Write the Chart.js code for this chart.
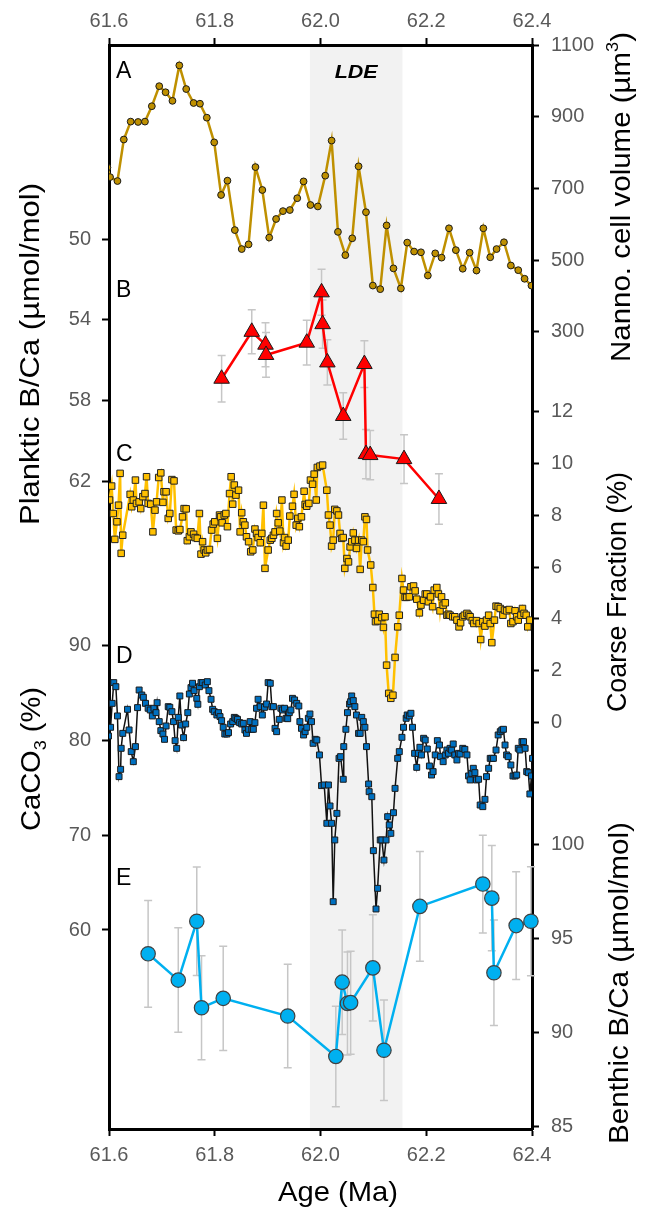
<!DOCTYPE html>
<html><head><meta charset="utf-8">
<style>html,body{margin:0;padding:0;background:#fff;}canvas{display:block;}</style>
<script src="https://cdn.jsdelivr.net/npm/chart.js@4.4.1/dist/chart.umd.min.js"></script>
</head><body>
<canvas id="c" width="645" height="1207"></canvas>
<script>
// ---------------- DATA ----------------
const xTicks = [61.6, 61.8, 62.0, 62.2, 62.4];
const nannoTicks = [300, 500, 700, 900, 1100];
const plankTicks = [50, 54, 58, 62];
const coarseTicks = [0, 2, 4, 6, 8, 10, 12];
const caco3Ticks = [60, 70, 80, 90];
const benthTicks = [85, 90, 95, 100];
const ldeRange = [61.98, 62.155];

// A: nannofossil cell volume (um3)
const nannoAge = [61.597,61.602,61.616,61.628,61.641,61.655,61.668,61.681,61.695,61.707,61.720,61.733,61.746,61.760,61.772,61.785,61.799,61.812,61.824,61.838,61.851,61.864,61.877,61.890,61.903,61.916,61.929,61.942,61.956,61.968,61.981,61.995,62.009,62.021,62.033,62.047,62.060,62.072,62.086,62.099,62.113,62.125,62.138,62.152,62.164,62.177,62.190,62.203,62.217,62.229,62.243,62.256,62.269,62.282,62.295,62.308,62.321,62.333,62.347,62.360,62.374,62.386,62.399];
const nannoVol = [759,732,721,837,887,886,887,930,986,969,945,1044,978,939,937,898,829,682,722,584,531,544,760,696,563,615,637,640,673,720,654,650,736,834,579,514,561,762,634,429,419,597,477,421,549,524,522,457,519,507,589,528,476,521,471,589,508,531,550,485,472,448,429];

// B: planktic B/Ca (umol/mol)
const plankAge = [61.813,61.870,61.896,61.897,61.974,62.002,62.004,62.013,62.043,62.083,62.086,62.094,62.158,62.224];
const plankBCa = [56.92,54.59,55.23,55.74,55.13,52.63,54.21,56.11,58.77,56.19,60.66,60.71,60.91,62.89];
const plankErr = [1.16,1.09,1.09,1.11,1.11,1.14,1.2,1.12,1.16,1.16,1.22,1.22,1.21,1.25];

// C: coarse fraction (%)
const coarseAge = [
61.601,61.605,61.608,61.611,61.615,61.618,61.621,61.623,61.626,61.640,
61.643,61.646,61.650,61.652,61.657,61.660,61.664,61.668,61.671,61.674,
61.679,61.683,61.687,61.690,61.694,61.698,61.702,61.704,61.708,61.712,
61.715,61.719,61.723,61.727,61.731,61.734,61.739,61.742,61.746,61.748,
61.752,61.755,61.760,61.763,61.767,61.771,61.774,61.777,61.780,61.783,
61.786,61.790,61.794,61.797,61.800,61.805,61.809,61.811,61.814,61.818,
61.821,61.824,61.828,61.831,61.834,61.837,61.840,61.845,61.848,61.851,
61.854,61.857,61.860,61.864,61.868,61.872,61.876,61.879,61.882,61.886,
61.889,61.892,61.895,61.901,61.905,61.908,61.911,61.914,61.917,61.920,
61.923,61.927,61.930,61.932,61.935,61.939,61.942,61.947,61.950,61.954,
61.957,61.960,61.964,61.969,61.971,61.974,61.978,61.981,61.985,61.988,
61.992,61.994,61.999,62.004,62.012,62.015,62.018,62.021,62.024,62.027,
62.031,62.034,62.037,62.040,62.043,62.046,62.050,62.053,62.056,62.059,
62.062,62.065,62.068,62.072,62.075,62.078,62.081,62.084,62.087,62.089,
62.095,62.099,62.102,62.104,62.108,62.111,62.116,62.119,62.122,62.125,
62.129,62.133,62.137,62.141,62.146,62.149,62.154,62.157,62.160,62.163,
62.168,62.171,62.176,62.179,62.182,62.187,62.190,62.195,62.198,62.201,
62.204,62.208,62.212,62.215,62.220,62.223,62.226,62.229,62.232,62.236,
62.239,62.242,62.245,62.250,62.254,62.258,62.262,62.265,62.269,62.272,
62.277,62.280,62.283,62.287,62.290,62.295,62.300,62.303,62.307,62.311,
62.314,62.318,62.321,62.324,62.329,62.332,62.336,62.340,62.345,62.348,
62.352,62.357,62.360,62.364,62.368,62.371,62.374,62.379,62.382,62.385,
62.389,62.392,62.396];
const coarsePct = [
8.59,9.13,8.07,7.07,7.75,8.39,9.62,6.53,7.23,8.81,
8.33,8.59,9.36,8.46,8.52,8.26,8.72,8.84,9.49,8.46,
8.43,7.36,8.20,8.52,9.46,9.64,8.50,8.91,8.91,7.88,
8.07,9.38,9.33,7.43,7.40,7.45,7.94,8.26,8.25,7.02,
7.17,7.36,7.27,7.14,7.11,8.07,6.50,6.98,6.66,6.55,
6.66,6.68,7.43,7.66,7.75,7.11,8.01,7.94,7.71,8.01,
8.07,7.56,8.84,9.49,8.43,9.17,8.78,8.97,7.36,8.10,
7.75,7.62,7.17,6.98,6.59,6.66,7.47,7.30,7.14,6.94,
7.30,8.39,5.95,6.66,7.04,7.11,7.23,7.36,8.07,7.71,
7.39,8.59,6.94,7.14,6.81,7.04,7.97,8.35,8.81,7.62,
7.88,7.56,7.94,8.93,8.42,8.35,8.46,9.36,9.20,9.59,
8.59,9.85,9.90,9.94,8.97,8.01,7.62,6.81,7.04,8.23,
8.17,8.01,7.30,7.11,7.14,5.95,6.33,6.20,6.78,6.98,
7.32,7.04,6.72,7.04,5.91,7.04,6.98,7.94,7.84,6.66,
6.08,5.21,4.18,3.89,3.92,4.18,4.05,3.67,4.08,2.21,
1.12,0.93,1.05,2.51,3.69,4.14,5.56,5.11,4.83,4.83,
4.85,5.24,5.27,5.08,4.76,4.23,4.53,4.72,4.96,4.96,
4.66,4.85,4.47,5.11,5.21,4.96,4.31,4.85,4.53,4.62,
4.14,4.18,4.14,4.08,4.08,3.95,3.69,3.85,4.08,4.14,
4.21,4.14,4.08,3.93,3.82,3.93,3.82,3.20,3.89,3.72,
3.95,4.14,3.82,3.08,3.95,4.49,4.47,4.40,4.14,4.34,
4.31,4.36,3.82,3.89,4.31,4.08,3.95,4.14,4.40,4.21,
4.14,3.69,3.95];

// D: CaCO3 (%)
const caco3Age = [
61.599,61.603,61.606,61.609,61.613,61.616,61.619,61.622,61.623,61.626,
61.635,61.638,61.642,61.646,61.650,61.654,61.657,61.662,61.665,61.669,
61.674,61.678,61.682,61.685,61.689,61.691,61.695,61.698,61.702,61.705,
61.708,61.712,61.715,61.719,61.722,61.725,61.728,61.731,61.734,61.737,
61.741,61.745,61.749,61.752,61.755,61.758,61.761,61.766,61.768,61.771,
61.774,61.777,61.782,61.786,61.789,61.793,61.796,61.799,61.804,61.807,
61.810,61.813,61.816,61.819,61.823,61.826,61.830,61.834,61.837,61.840,
61.843,61.847,61.851,61.854,61.857,61.860,61.864,61.867,61.870,61.873,
61.876,61.879,61.882,61.886,61.890,61.894,61.898,61.901,61.905,61.908,
61.911,61.914,61.917,61.922,61.925,61.928,61.932,61.935,61.938,61.941,
61.944,61.947,61.951,61.955,61.959,61.961,61.964,61.968,61.971,61.974,
61.977,61.980,61.983,61.986,61.990,61.993,61.998,62.002,62.007,62.012,
62.015,62.018,62.021,62.024,62.027,62.031,62.035,62.038,62.043,62.044,
62.048,62.051,62.055,62.057,62.059,62.062,62.065,62.068,62.072,62.075,
62.078,62.081,62.084,62.087,62.091,62.092,62.097,62.100,62.105,62.108,
62.113,62.116,62.120,62.124,62.127,62.130,62.133,62.138,62.141,62.146,
62.149,62.154,62.157,62.162,62.164,62.168,62.171,62.174,62.178,62.182,
62.185,62.188,62.191,62.195,62.198,62.202,62.206,62.210,62.213,62.217,
62.221,62.225,62.227,62.232,62.236,62.239,62.242,62.245,62.248,62.251,
62.254,62.258,62.261,62.264,62.269,62.273,62.277,62.280,62.283,62.286,
62.289,62.292,62.295,62.299,62.302,62.307,62.311,62.314,62.318,62.321,
62.324,62.327,62.332,62.336,62.340,62.343,62.346,62.349,62.352,62.355,
62.360,62.364,62.368,62.371,62.374,62.377,62.381,62.384,62.387,62.390,
62.393,62.396,62.399,62.401];
const caco3Pct = [
80.49,81.41,83.94,86.13,85.70,82.61,76.20,76.97,79.19,80.77,
83.31,81.13,78.84,77.78,79.37,83.49,85.35,84.82,84.58,83.94,
83.42,83.24,82.61,83.42,82.96,84.01,82.01,81.06,80.70,80.14,
81.55,83.59,83.52,83.06,82.01,80.00,79.19,82.46,84.72,81.65,
80.32,81.76,82.96,84.93,85.60,86.06,85.28,84.47,83.84,85.70,
86.13,86.13,85.88,86.23,85.28,84.37,83.31,83.06,82.71,82.96,
82.54,82.11,81.41,80.70,80.70,80.85,81.76,82.01,82.46,82.36,
82.25,81.90,81.76,81.83,81.13,80.77,81.20,82.01,81.20,81.20,
81.90,83.42,84.37,83.59,82.71,83.52,83.87,86.13,86.06,83.59,
83.59,81.30,80.95,82.25,83.42,83.24,83.42,82.36,82.32,82.96,
83.24,84.47,84.30,83.94,83.66,82.01,81.30,80.60,80.95,81.41,
82.36,82.82,82.01,79.72,80.14,80.07,78.49,75.25,75.32,71.27,
75.32,73.10,71.27,62.99,69.51,72.32,78.13,78.31,75.92,79.37,
81.20,82.96,83.87,84.12,84.72,84.23,83.59,82.71,80.77,80.77,
82.46,82.01,81.41,79.37,75.42,74.61,74.08,68.38,62.22,64.40,
69.51,69.51,67.39,69.51,71.97,71.09,70.21,72.39,74.96,78.13,
78.84,80.35,81.41,82.36,82.71,82.61,82.89,81.41,78.66,77.18,
78.66,79.30,78.49,80.25,80.07,79.12,77.32,76.37,76.73,78.49,
80.00,79.54,78.31,77.78,78.49,79.01,78.66,79.19,79.01,79.65,
78.49,77.96,78.66,78.59,79.19,79.08,78.49,76.27,75.85,76.55,
77.08,76.62,75.85,75.92,73.20,73.03,73.80,76.20,77.08,78.13,
78.13,78.13,79.01,80.60,80.95,81.13,81.20,79.54,78.49,78.31,
77.43,76.27,76.27,76.37,79.19,79.01,79.89,79.89,79.19,76.73,
76.62,74.37,76.27,78.13];

// E: benthic B/Ca (umol/mol)
const benthAge = [61.674,61.731,61.766,61.775,61.816,61.938,62.029,62.041,62.051,62.057,62.099,62.120,62.188,62.307,62.324,62.328,62.370,62.398];
const benthBCa = [94.21,92.81,95.94,91.34,91.84,90.90,88.75,92.70,91.57,91.61,93.46,89.08,96.73,97.92,97.17,93.20,95.71,95.94];
const benthErr = [2.84,2.78,2.88,2.76,2.77,2.75,2.67,2.78,2.74,2.74,2.83,2.67,2.92,2.6,2.8,2.81,2.87,2.9];

// ---------------- CHART ----------------
const FONT = "'Liberation Sans', Arial, Helvetica, sans-serif";
const TICK_COLOR = '#595959';
const zip = (xs, ys) => xs.map((x, i) => ({x, y: ys[i]}));

function xScale(position, border) {
  return {
    type: 'linear', position, min: 61.6, max: 62.4,
    afterFit: s => { s.height = 0; },
    afterBuildTicks: s => { s.ticks = xTicks.map(v => ({value: v})); },
    grid: {display: true, drawOnChartArea: false, drawTicks: true, tickLength: 7, tickWidth: 2, tickColor: '#000'},
    border: {display: border, width: 3, color: '#000'},
    ticks: {autoSkip: false, maxRotation: 0, padding: position === 'top' ? 5 : 7, color: TICK_COLOR,
            font: {family: FONT, size: 20}, callback: v => Number(v).toFixed(1)}
  };
}
function yScale(position, min, max, ticks, border, reverse) {
  return {
    type: 'linear', position, min, max, reverse: !!reverse,
    afterFit: s => { s.width = 0; },
    afterBuildTicks: s => { s.ticks = ticks.map(v => ({value: v})); },
    grid: {display: true, drawOnChartArea: false, drawTicks: true, tickLength: 7, tickWidth: 2, tickColor: '#000'},
    border: {display: border, width: 3, color: '#000'},
    ticks: {autoSkip: false, padding: position === 'left' ? 11 : 12, color: TICK_COLOR,
            font: {family: FONT, size: 20}, callback: v => String(v)}
  };
}

function drawRich(ctx, segs, o) {
  ctx.save();
  ctx.translate(o.x, o.y);
  if (o.rot) ctx.rotate(o.rot);
  const f = sz => `${o.style || 'normal'} ${o.weight || 'normal'} ${sz}px ${FONT}`;
  let w = 0;
  const parts = segs.map(sg => {
    const sz = (sg.sub || sg.sup) ? o.size * 0.62 : o.size;
    ctx.font = f(sz);
    const m = ctx.measureText(sg.t).width;
    w += m;
    return {t: sg.t, sz, m, dy: sg.sub ? o.size * 0.2 : (sg.sup ? -o.size * 0.42 : 0)};
  });
  const sx = o.len ? o.len / w : 1;
  ctx.scale(sx, 1);
  ctx.fillStyle = o.color || '#000';
  ctx.textAlign = 'left';
  ctx.textBaseline = 'alphabetic';
  let cx = -w / 2;
  for (const p of parts) { ctx.font = f(p.sz); ctx.fillText(p.t, cx, p.dy); cx += p.m; }
  ctx.restore();
}

// Give the zero-width axis boxes room for their labels once the chart area is fixed
const axisBoxes = {
  id: 'axisBoxes',
  afterLayout(chart) {
    for (const s of Object.values(chart.scales)) {
      const p = s.options.position;
      if (p === 'left') { s.left = 0; s.width = s.right; }
      else if (p === 'right') { s.right = chart.width; s.width = s.right - s.left; }
      else if (p === 'bottom') { s.bottom = chart.height; s.height = s.bottom - s.top; }
      else if (p === 'top') { s.top = 0; s.height = s.bottom; }
    }
  }
};

const backdrop = {
  id: 'backdrop',
  beforeDraw(chart) {
    const {ctx, chartArea: a, scales: {x}} = chart;
    ctx.save();
    ctx.fillStyle = '#fff';
    ctx.fillRect(0, 0, chart.width, chart.height);
    const x1 = x.getPixelForValue(ldeRange[0]), x2 = x.getPixelForValue(ldeRange[1]);
    ctx.fillStyle = '#f2f2f2';
    ctx.fillRect(x1, a.top, x2 - x1, a.bottom - a.top);
    ctx.restore();
  }
};

const errorBars = {
  id: 'errorBars',
  beforeDatasetsDraw(chart) {
    const {ctx, scales} = chart;
    const xs = scales.x;
    ctx.save();
    ctx.strokeStyle = '#c6c6c6';
    ctx.lineWidth = 1.5;
    const draw = (ages, vals, errs, ys) => {
      ages.forEach((a, i) => {
        const px = xs.getPixelForValue(a);
        const y1 = ys.getPixelForValue(vals[i] - errs[i]);
        const y2 = ys.getPixelForValue(vals[i] + errs[i]);
        ctx.beginPath();
        ctx.moveTo(px, y1); ctx.lineTo(px, y2);
        ctx.moveTo(px - 4, y1); ctx.lineTo(px + 4, y1);
        ctx.moveTo(px - 4, y2); ctx.lineTo(px + 4, y2);
        ctx.stroke();
      });
    };
    draw(plankAge, plankBCa, plankErr, scales.yB);
    draw(benthAge, benthBCa, benthErr, scales.yE);
    ctx.restore();
  }
};

const labels = {
  id: 'labels',
  afterDraw(chart) {
    const {ctx, scales: {x}} = chart;
    ctx.save();
    ctx.fillStyle = '#000';
    ctx.textAlign = 'left';
    ctx.textBaseline = 'alphabetic';
    ctx.font = `23px ${FONT}`;
    [['A', 78], ['B', 297], ['C', 461], ['D', 663], ['E', 885]].forEach(([t, y]) => ctx.fillText(t, 116, y));
    ctx.restore();
    const cx = (x.getPixelForValue(ldeRange[0]) + x.getPixelForValue(ldeRange[1])) / 2;
    drawRich(ctx, [{t: 'LDE'}], {x: cx, y: 78, size: 19, weight: 'bold', style: 'italic', len: 43});
    const R = -Math.PI / 2;
    drawRich(ctx, [{t: 'Planktic B/Ca (\u00b5mol/mol)'}], {x: 39, y: 354, rot: R, size: 28, len: 342});
    drawRich(ctx, [{t: 'CaCO'}, {t: '3', sub: true}, {t: ' (%)'}], {x: 40, y: 759, rot: R, size: 28, len: 144});
    drawRich(ctx, [{t: 'Nanno. cell volume (\u00b5m'}, {t: '3', sup: true}, {t: ')'}], {x: 630, y: 197, rot: R, size: 28, len: 330});
    drawRich(ctx, [{t: 'Coarse Fraction (%)'}], {x: 626, y: 592, rot: R, size: 27, len: 240});
    drawRich(ctx, [{t: 'Benthic B/Ca (\u00b5mol/mol)'}], {x: 628, y: 983, rot: R, size: 28, len: 322});
    drawRich(ctx, [{t: 'Age (Ma)'}], {x: 338, y: 1201, size: 28, len: 120});
  }
};

new Chart(document.getElementById('c'), {
  type: 'line',
  data: {
    datasets: [
      {label: 'Nanno. cell volume', data: zip(nannoAge, nannoVol), yAxisID: 'yA',
       borderColor: '#BF9000', borderWidth: 2.5, backgroundColor: '#BF9000',
       pointStyle: 'circle', pointRadius: 3.4, pointBorderColor: '#1a1a1a', pointBorderWidth: 1},
      {label: 'Planktic B/Ca', data: zip(plankAge, plankBCa), yAxisID: 'yB',
       borderColor: '#FF0000', borderWidth: 2.5, backgroundColor: '#FF0000',
       pointStyle: 'triangle', pointRadius: 9, pointBorderColor: '#1a1a1a', pointBorderWidth: 1},
      {label: 'Coarse Fraction', data: zip(coarseAge, coarsePct), yAxisID: 'yC',
       borderColor: '#FFC000', borderWidth: 2.5, backgroundColor: '#FFC000',
       pointStyle: 'rect', pointRadius: 4.6, pointBorderColor: '#222', pointBorderWidth: 1},
      {label: 'CaCO3', data: zip(caco3Age, caco3Pct), yAxisID: 'yD',
       borderColor: '#111', borderWidth: 1.5, backgroundColor: '#0070C0',
       pointStyle: 'rect', pointRadius: 4.2, pointBorderColor: '#1a1a1a', pointBorderWidth: 1},
      {label: 'Benthic B/Ca', data: zip(benthAge, benthBCa), yAxisID: 'yE',
       borderColor: '#00B0F0', borderWidth: 2.5, backgroundColor: '#00B0F0',
       pointStyle: 'circle', pointRadius: 7.2, pointBorderColor: '#404040', pointBorderWidth: 1.2,
       clip: {left: 0, top: 0, right: 10, bottom: 0}}
    ]
  },
  options: {
    responsive: false,
    devicePixelRatio: 1,
    animation: false,
    events: [],
    layout: {padding: {left: 109, right: 113, top: 45, bottom: 78}},
    plugins: {legend: {display: false}, tooltip: {enabled: false}, title: {display: false}},
    elements: {line: {tension: 0, fill: false}},
    scales: {
      x: xScale('bottom', true),
      x2: xScale('top', true),
      yB: yScale('left', 40.35, 94.17, plankTicks, true, true),
      yD: yScale('left', 38.98, 153.48, caco3Ticks, false),
      yA: yScale('right', -1927, 1101, nannoTicks, true),
      yC: yScale('right', -15.71, 26.17, coarseTicks, false),
      yE: yScale('right', 84.89, 142.55, benthTicks, false)
    }
  },
  plugins: [axisBoxes, backdrop, errorBars, labels]
});
</script>
</body></html>
